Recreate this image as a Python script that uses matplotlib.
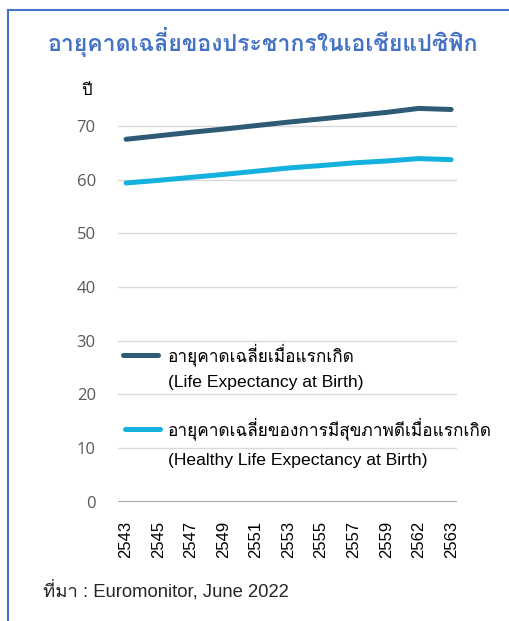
import matplotlib
matplotlib.use("Agg")
import matplotlib.pyplot as plt
from matplotlib.lines import Line2D

# data (Thai Buddhist-era years)
years = ["2543", "2545", "2547", "2549", "2551", "2553", "2555", "2557", "2559", "2562", "2563"]
life_exp = [67.55, 68.2, 68.85, 69.45, 70.1, 70.75, 71.35, 71.95, 72.55, 73.3, 73.1]
healthy_exp = [59.4, 59.9, 60.45, 61.0, 61.6, 62.2, 62.65, 63.15, 63.5, 63.95, 63.75]
yticks = [0, 10, 20, 30, 40, 50, 60, 70]

title = "อายุคาดเฉลี่ยของประชากรในเอเชียแปซิฟิก"
label_life = ["อายุคาดเฉลี่ยเมื่อแรกเกิด", "(Life Expectancy at Birth)"]
label_healthy = ["อายุคาดเฉลี่ยของการมีสุขภาพดีเมื่อแรกเกิด", "(Healthy Life Expectancy at Birth)"]
source = "ที่มา : Euromonitor, June 2022"

# Loma places the tone marks correctly without text shaping
thai = ["Loma", "Liberation Sans"]
latin_thai = ["Liberation Sans", "Loma"]

dark = "#2E5A75"
cyan = "#14B0DE"
frame_blue = "#4472C4"

fig = plt.figure(figsize=(5.09, 6.21), dpi=100)
ax = fig.add_axes([0.2318, 0.1921, 0.666, 0.648])

x = list(range(len(years)))
ax.plot(x, life_exp, color=dark, lw=3.6, solid_capstyle="round", zorder=3)
ax.plot(x, healthy_exp, color=cyan, lw=3.6, solid_capstyle="round", zorder=3)

ax.set_xlim(-0.25, 10.18)
ax.set_ylim(0, 75)
ax.set_yticks(yticks)
ax.set_xticks(x)
ax.set_xticklabels(years, rotation=90, family="Liberation Sans", fontsize=12, color="black")
ax.set_yticklabels([str(v) for v in yticks], family="Open Sans", fontsize=12, color="#595959")
ax.tick_params(axis="both", length=0)
ax.tick_params(axis="x", pad=14)
ax.tick_params(axis="y", pad=16)

for v in yticks[1:]:
    ax.axhline(v, color="#D9D9D9", lw=1, zorder=1)
ax.axhline(0, color="#A6A6A6", lw=1.5, zorder=2)
for s in ax.spines.values():
    s.set_visible(False)

# legend drawn by hand so the swatch sits on the first text line
def legend_item(y1, y2, x0, color, lines):
    ax.add_line(Line2D([x0, x0 + 0.103], [y1, y1], transform=ax.transAxes,
                       color=color, lw=3.6, solid_capstyle="round", zorder=4))
    ax.text(0.147, y1, lines[0], transform=ax.transAxes, va="center", ha="left",
            family=thai, fontsize=12.4, color="black", zorder=4)
    ax.text(0.147, y2, lines[1], transform=ax.transAxes, va="center", ha="left",
            family=latin_thai, fontsize=12.6, color="black", zorder=4)

legend_item(0.3645, 0.295, 0.0147, dark, label_life)
legend_item(0.1806, 0.1036, 0.0206, cyan, label_healthy)

fig.text(0.517, 0.932, title, ha="center", va="center", family=thai,
         fontsize=16.6, fontweight="bold", color=frame_blue)
fig.text(0.169, 0.853, "ปี", ha="center", va="center", family=thai, fontsize=12, color="black")
fig.text(0.085, 0.049, source, ha="left", va="center", family=latin_thai,
         fontsize=13.3, color="#262626")

# blue frame (left and top edges)
fig.add_artist(Line2D([0.0157, 0.0157], [0.0, 0.984], transform=fig.transFigure,
                      color=frame_blue, lw=1.5))
fig.add_artist(Line2D([0.0157, 1.0], [0.984, 0.984], transform=fig.transFigure,
                      color=frame_blue, lw=1.5))

fig.savefig("out.png", dpi=100)
